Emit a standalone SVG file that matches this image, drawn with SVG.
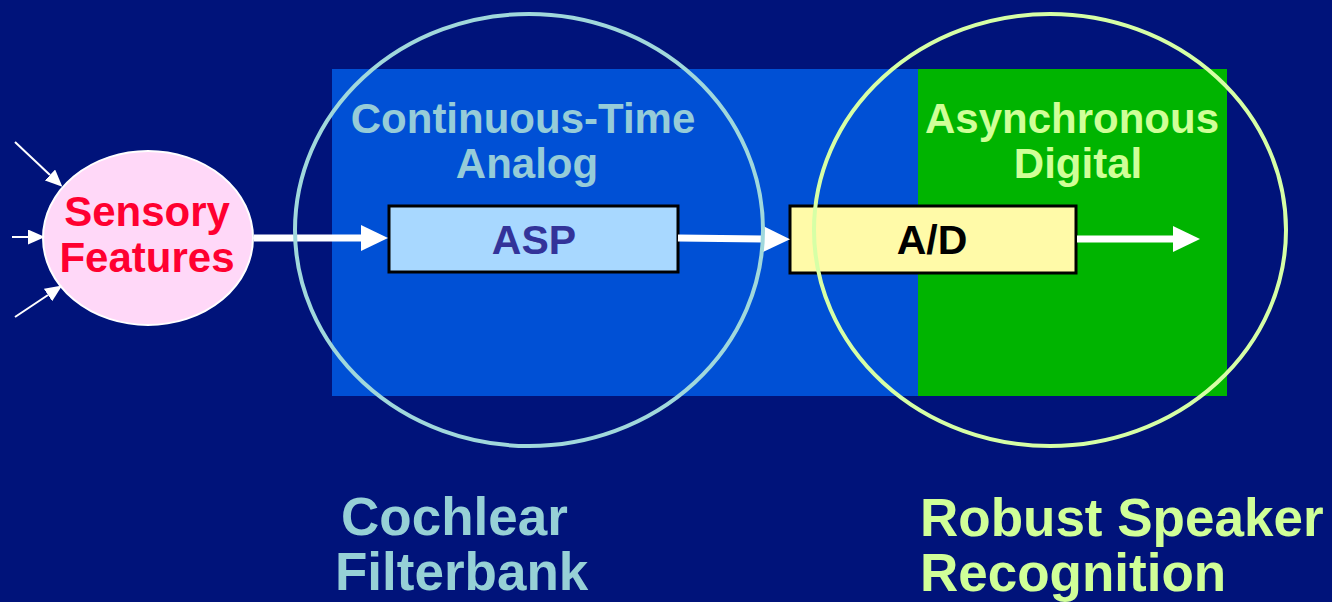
<svg xmlns="http://www.w3.org/2000/svg" width="1332" height="602" viewBox="0 0 1332 602">
<defs>
<marker id="bigHead" markerWidth="27" markerHeight="26" refX="0" refY="13" orient="auto" markerUnits="userSpaceOnUse">
<path d="M0,0 L27,13 L0,26 Z" fill="#ffffff"/>
</marker>
<marker id="smallHead" markerWidth="17" markerHeight="15" refX="0" refY="7.5" orient="auto" markerUnits="userSpaceOnUse">
<path d="M0,0 L17,7.5 L0,15 Z" fill="#ffffff"/>
</marker>
<style>
text { font-family: "Liberation Sans", Arial, sans-serif; font-weight: bold; }
.big { stroke: #ffffff; stroke-width: 7; fill: none; marker-end: url(#bigHead); }
.small { stroke: #ffffff; stroke-width: 2; fill: none; marker-end: url(#smallHead); }
.box { stroke: #000000; stroke-width: 3; }
.region { fill: none; stroke-width: 4; }
</style>
</defs>
<rect x="0" y="0" width="1332" height="602" fill="#00137a"/>
<g id="analog-region">
<rect x="332" y="69" width="586" height="327" fill="#0050d5"/>
<text x="523" y="133" font-size="42" fill="#96ccd8" text-anchor="middle">Continuous-Time</text>
<text x="527" y="178" font-size="42" fill="#96ccd8" text-anchor="middle">Analog</text>
</g>
<g id="digital-region">
<rect x="918" y="69" width="309" height="327" fill="#00b400"/>
<text x="1072" y="133" font-size="42" fill="#d0ff98" text-anchor="middle">Asynchronous</text>
<text x="1078" y="178" font-size="42" fill="#d0ff98" text-anchor="middle">Digital</text>
</g>
<g id="sensory">
<ellipse cx="148" cy="238" rx="105" ry="87" fill="#ffd8f8" stroke="#ffffff" stroke-width="2"/>
<text x="147" y="226" font-size="42" fill="#ff0030" text-anchor="middle">Sensory</text>
<text x="147" y="272" font-size="42" fill="#ff0030" text-anchor="middle">Features</text>
</g>
<g id="asp">
<rect class="box" x="389" y="206" width="289" height="66" fill="#a8d8ff"/>
<text x="534" y="254" font-size="41" fill="#333399" text-anchor="middle">ASP</text>
</g>
<g id="ad">
<rect class="box" x="790" y="206" width="286" height="67" fill="#fffaa8"/>
<text x="932" y="254" font-size="41" fill="#000000" text-anchor="middle">A/D</text>
</g>
<g id="connectors">
<line class="small" x1="15" y1="142" x2="50" y2="175"/>
<line class="small" x1="12" y1="237" x2="28" y2="237"/>
<line class="small" x1="15" y1="317" x2="48" y2="295"/>
<line class="big" x1="254" y1="238" x2="361" y2="238"/>
<line class="big" x1="678" y1="238" x2="763" y2="239"/>
<line class="big" x1="1077" y1="239" x2="1173" y2="239"/>
</g>
<g id="cochlear-circle">
<ellipse class="region" cx="529" cy="230" rx="234" ry="216" stroke="#a0d8dc"/>
<text x="341" y="535" font-size="53" fill="#96d0d6">Cochlear</text>
<text x="335" y="590" font-size="53" fill="#96d0d6">Filterbank</text>
</g>
<g id="speaker-circle">
<ellipse class="region" cx="1050" cy="230" rx="236" ry="216" stroke="#d6ffa6"/>
<text x="920" y="536" font-size="53" fill="#d0ff98">Robust Speaker</text>
<text x="920" y="591" font-size="53" fill="#d0ff98">Recognition</text>
</g>
</svg>
